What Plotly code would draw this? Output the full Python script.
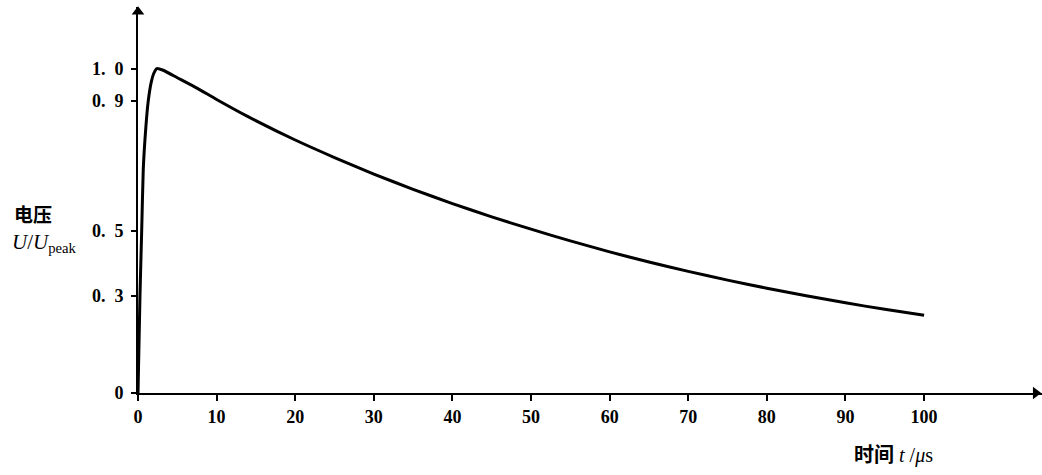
import plotly.graph_objects as go

# Normalised impulse voltage
t_us = [0, 0.25, 0.47, 0.67, 1.0, 1.3, 1.7, 2.0, 2.4, 3.2, 5, 7.5, 10, 14, 20, 25, 30, 35,
        40, 45, 50, 55, 60, 65, 70, 75, 80, 85, 90, 95, 100]
u_rel = [0, 0.30, 0.50, 0.69, 0.82, 0.90, 0.96, 0.985, 1.00, 0.995, 0.972, 0.94, 0.905,
         0.852, 0.78, 0.726, 0.675, 0.628, 0.584, 0.543, 0.505, 0.469, 0.435, 0.404,
         0.375, 0.348, 0.323, 0.300, 0.278, 0.258, 0.240]

x_ticks = [0, 10, 20, 30, 40, 50, 60, 70, 80, 90, 100]
x_ticktext = ["0", "10", "20", "30", "40", "50", "60", "70", "80", "90", "100"]
y_ticks = [0, 0.3, 0.5, 0.9, 1.0]
y_ticktext = ["0", "0.\u00a0\u00a03", "0.\u00a0\u00a05", "0.\u00a0\u00a09", "1.\u00a0\u00a00"]

X_MAX, Y_MAX = 115, 1.19

serif = "Liberation Serif, Noto Sans CJK SC, serif"
tickfont = dict(family=serif, size=18, color="black", weight="bold")

W, H = 1042, 475
l, r, tm, bm = 138, 0, 7, 82

fig = go.Figure()
fig.add_trace(go.Scatter(x=t_us, y=u_rel, mode="lines",
                         line=dict(color="black", width=3, shape="spline", smoothing=0.5),
                         showlegend=False, hoverinfo="skip"))
# axis arrowheads
fig.add_trace(go.Scatter(x=[114.2], y=[0], mode="markers", cliponaxis=False,
                         marker=dict(symbol="triangle-right", size=11, color="black"),
                         showlegend=False, hoverinfo="skip"))
fig.add_trace(go.Scatter(x=[0], y=[1.175], mode="markers", cliponaxis=False,
                         marker=dict(symbol="triangle-up", size=11, color="black"),
                         showlegend=False, hoverinfo="skip"))

fig.update_layout(
    width=W, height=H,
    margin=dict(l=l, r=r, t=tm, b=bm),
    paper_bgcolor="white", plot_bgcolor="white",
    xaxis=dict(range=[0, X_MAX], showgrid=False, zeroline=False,
               showline=True, linecolor="black", linewidth=2,
               ticks="outside", ticklen=6, tickwidth=1.5, tickcolor="black",
               tickvals=x_ticks, ticktext=x_ticktext, tickfont=tickfont),
    yaxis=dict(range=[0, Y_MAX], showgrid=False, zeroline=False,
               showline=True, linecolor="black", linewidth=2,
               ticks="outside", ticklen=5, tickwidth=1.5, tickcolor="black",
               ticklabelstandoff=4,
               tickvals=y_ticks, ticktext=y_ticktext, tickfont=tickfont),
)

pw, ph = W - l - r, H - tm - bm


def px(xp, yp):
    # page pixel -> paper coords
    return (xp - l) / pw, 1 - (yp - tm) / ph


# axis titles
ax_, ay_ = px(33, 213)
fig.add_annotation(x=ax_, y=ay_, xref="paper", yref="paper", text="<b>电压</b>",
                   xanchor="center", yanchor="middle", showarrow=False,
                   font=dict(family="Noto Sans CJK SC", size=19, color="black"))
ax_, ay_ = px(10, 243)
fig.add_annotation(x=ax_, y=ay_, xref="paper", yref="paper",
                   text="<i>U</i>/<i>U</i><sub>peak</sub>", showarrow=False,
                   xanchor="left", yanchor="middle",
                   font=dict(family=serif, size=21, color="black"))
ax_, ay_ = px(893, 456)
fig.add_annotation(x=ax_, y=ay_, xref="paper", yref="paper",
                   text="<b>时间</b> <i>t</i> /<i>μ</i>s", showarrow=False,
                   xanchor="center", yanchor="middle",
                   font=dict(family=serif, size=20, color="black"))

fig.write_html("out.html", config={"displayModeBar": False},
               post_script="document.body.style.margin='0px';")
